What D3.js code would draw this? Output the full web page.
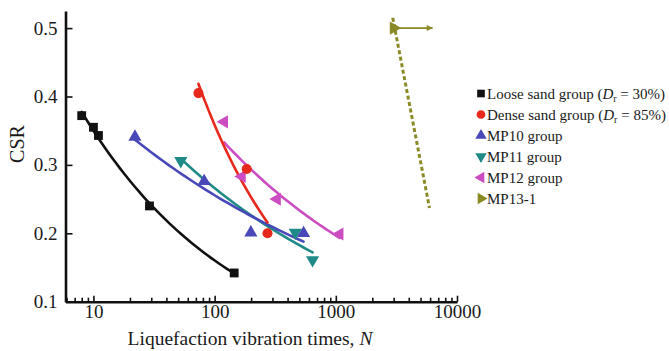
<!DOCTYPE html>
<html>
<head>
<meta charset="utf-8">
<script src="https://cdn.jsdelivr.net/npm/d3@7"></script>
<style>
  html, body { margin: 0; padding: 0; background: #fff; }
  svg text { font-family: "Liberation Serif", "Times New Roman", serif; fill: #1a1a1a; }
</style>
</head>
<body>
<div id="chart"></div>
<script>
// tick values
const xMajorTicks = [10, 100, 1000, 10000];
const yTicks = [0.1, 0.2, 0.3, 0.4, 0.5];

// series (N, CSR)
const looseN = [8, 10, 11, 29, 145];
const looseCSR = [0.372, 0.355, 0.343, 0.240, 0.142];
const denseN = [73.5, 184, 273];
const denseCSR = [0.405, 0.294, 0.200];
const mp10N = [22, 82, 199, 542];
const mp10CSR = [0.341, 0.276, 0.201, 0.200];
const mp11N = [52.6, 463, 643];
const mp11CSR = [0.306, 0.201, 0.161];
const mp12N = [120, 168, 327, 1075];
const mp12CSR = [0.363, 0.283, 0.250, 0.199];
const mp13N = [3000];
const mp13CSR = [0.500];

// MP13-1 dashed guide and "not liquefied" arrow
const mp13LineN = [2950, 5930];
const mp13LineCSR = [0.515, 0.237];
const mp13ArrowN = [3000, 6300];
const mp13ArrowCSR = [0.5, 0.5];

const COLORS = {
    loose: '#111111',
    dense: '#e8281c',
    mp10: '#4848b8',
    mp11: '#1f8a87',
    mp12: '#cc4cc2',
    mp13: '#8a8a26'
};

const series = [
    { key: 'mp13', label: 'MP13-1', n: mp13N, csr: mp13CSR, symbol: d3.symbolTriangle, rotate: 90, size: 75, fit: false },
    { key: 'mp12', label: 'MP12 group', n: mp12N, csr: mp12CSR, symbol: d3.symbolTriangle, rotate: -90, size: 75, fit: true },
    { key: 'mp11', label: 'MP11 group', n: mp11N, csr: mp11CSR, symbol: d3.symbolTriangle, rotate: 180, size: 75, fit: true },
    { key: 'mp10', label: 'MP10 group', n: mp10N, csr: mp10CSR, symbol: d3.symbolTriangle, rotate: 0, size: 75, fit: true },
    { key: 'dense', label: 'Dense sand group', n: denseN, csr: denseCSR, symbol: d3.symbolCircle, rotate: 0, size: 80, fit: true, dr: '85%' },
    { key: 'loose', label: 'Loose sand group', n: looseN, csr: looseCSR, symbol: d3.symbolSquare, rotate: 0, size: 78, fit: true, dr: '30%' }
];

const legendOrder = ['loose', 'dense', 'mp10', 'mp11', 'mp12', 'mp13'];

// power law fit CSR = a * N^b, least squares in log-log
const powerFit = function(ns, cs) {
    const lx = ns.map(Math.log), ly = cs.map(Math.log);
    const mx = d3.mean(lx), my = d3.mean(ly);
    let sxy = 0, sxx = 0;
    lx.forEach((v, i) => { sxy += (v - mx) * (ly[i] - my); sxx += (v - mx) * (v - mx); });
    const b = sxy / sxx;
    const a = Math.exp(my - b * mx);
    return n => a * Math.pow(n, b);
};

const width = 669, height = 351;

const svg = d3.select('#chart').append('svg')
    .attr('width', width)
    .attr('height', height);

const x = d3.scaleLog()
    .domain([5.88, 10000])
    .range([65.5, 457]);

const y = d3.scaleLinear()
    .domain([0.1, 0.525])
    .range([301.7, 11]);

svg.append('defs').append('marker')
    .attr('id', 'arrowHead')
    .attr('viewBox', '0 0 10 10')
    .attr('refX', 10)
    .attr('refY', 5)
    .attr('markerWidth', 9)
    .attr('markerHeight', 6)
    .attr('markerUnits', 'userSpaceOnUse')
    .attr('orient', 'auto')
    .append('path')
    .attr('d', 'M0,0L10,5L0,10Z')
    .attr('fill', COLORS.mp13);

// minor x ticks
const minorTicks = [];
[1, 10, 100, 1000].forEach(dec => {
    for (let k = 2; k <= 9; k++) {
        const v = k * dec;
        if (v >= 5.88 && v < 10000) minorTicks.push(v);
    }
});

const xMinor = svg.append('g')
    .attr('transform', `translate(0,${y(0.1)})`)
    .call(d3.axisBottom(x).tickValues(minorTicks).tickSizeInner(-4).tickSizeOuter(0).tickFormat(''));
xMinor.select('.domain').remove();
xMinor.selectAll('line').attr('stroke', '#111').attr('stroke-width', 1.6);

const xAxis = svg.append('g')
    .attr('transform', `translate(0,${y(0.1)})`)
    .call(d3.axisBottom(x).tickValues(xMajorTicks).tickSizeInner(-6).tickSizeOuter(0).tickPadding(3).tickFormat(d3.format('d')));
xAxis.select('.domain').attr('stroke', '#111').attr('stroke-width', 2.6);
xAxis.selectAll('line').attr('stroke', '#111').attr('stroke-width', 1.6);
xAxis.selectAll('text').attr('font-size', 19).attr('font-family', '"Liberation Serif", serif').attr('fill', '#1a1a1a');

const yAxis = svg.append('g')
    .attr('transform', `translate(${x.range()[0]},0)`)
    .call(d3.axisLeft(y).tickValues(yTicks).tickSizeInner(-7).tickSizeOuter(0).tickPadding(8).tickFormat(d3.format('.1f')));
yAxis.select('.domain').attr('stroke', '#111').attr('stroke-width', 2.6);
yAxis.selectAll('line').attr('stroke', '#111').attr('stroke-width', 1.6);
yAxis.selectAll('text').attr('font-size', 19).attr('font-family', '"Liberation Serif", serif').attr('fill', '#1a1a1a');

// axis titles
const xTitle = svg.append('text')
    .attr('x', 250)
    .attr('y', 345)
    .attr('text-anchor', 'middle')
    .attr('font-size', 19.5);
xTitle.append('tspan').text('Liquefaction vibration times, ');
xTitle.append('tspan').attr('font-style', 'italic').text('N');

svg.append('text')
    .attr('transform', 'translate(24,144) rotate(-90)')
    .attr('text-anchor', 'middle')
    .attr('font-size', 20)
    .text('CSR');

const line = d3.line()
    .x(d => x(d[0]))
    .y(d => y(d[1]));

// fitted curves
series.filter(s => s.fit).forEach(s => {
    const f = powerFit(s.n, s.csr);
    const [lo, hi] = d3.extent(s.n);
    const pts = d3.range(0, 41).map(i => {
        const n = lo * Math.pow(hi / lo, i / 40);
        return [n, f(n)];
    });
    svg.append('path')
        .datum(pts)
        .attr('fill', 'none')
        .attr('stroke', COLORS[s.key])
        .attr('stroke-width', 2.6)
        .attr('stroke-linecap', 'round')
        .attr('d', line);
});

// MP13-1 dashed guide + arrow
svg.append('path')
    .datum(mp13LineN.map((n, i) => [n, mp13LineCSR[i]]))
    .attr('fill', 'none')
    .attr('stroke', COLORS.mp13)
    .attr('stroke-width', 3)
    .attr('stroke-dasharray', '4,2.6')
    .attr('d', line);

svg.append('path')
    .datum(mp13ArrowN.map((n, i) => [n, mp13ArrowCSR[i]]))
    .attr('fill', 'none')
    .attr('stroke', COLORS.mp13)
    .attr('stroke-width', 1.6)
    .attr('marker-end', 'url(#arrowHead)')
    .attr('d', line);

// markers
series.forEach(s => {
    const sym = d3.symbol().type(s.symbol).size(s.size);
    svg.append('g')
        .selectAll('path')
        .data(s.n.map((n, i) => [n, s.csr[i]]))
        .enter()
        .append('path')
        .attr('d', sym)
        .attr('fill', COLORS[s.key])
        .attr('transform', d => `translate(${x(d[0])},${y(d[1])}) rotate(${s.rotate})`);
});

// legend
const legend = svg.append('g').attr('transform', 'translate(481,93.5)');
legendOrder.forEach((key, i) => {
    const s = series.find(d => d.key === key);
    const row = legend.append('g').attr('transform', `translate(0,${i * 21})`);
    row.append('path')
        .attr('d', d3.symbol().type(s.symbol).size(s.size * 0.75))
        .attr('fill', COLORS[key])
        .attr('transform', `rotate(${s.rotate})`);
    const t = row.append('text')
        .attr('x', 6)
        .attr('dy', '0.35em')
        .attr('font-size', 15);
    if (s.dr) {
        t.append('tspan').text(s.label + ' (');
        t.append('tspan').attr('font-style', 'italic').text('D');
        t.append('tspan').attr('font-size', 10).attr('dy', 3).text('r');
        t.append('tspan').attr('dy', -3).text(' = ' + s.dr + ')');
    } else {
        t.text(s.label);
    }
});
</script>
</body>
</html>
